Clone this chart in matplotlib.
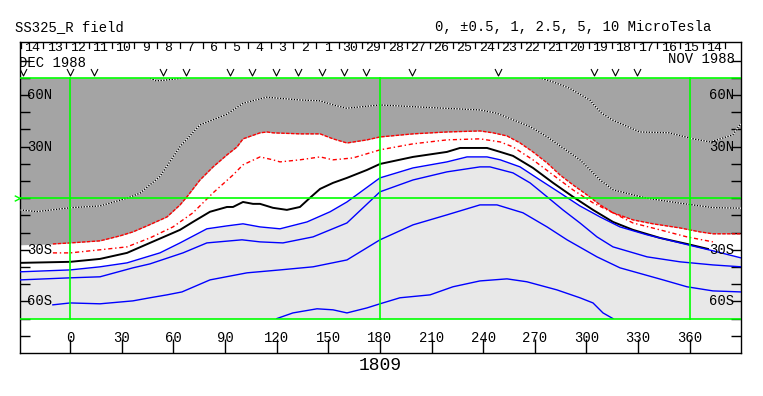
import matplotlib
matplotlib.use('Agg')
import matplotlib.pyplot as plt
from matplotlib.path import Path

# ---------------- data (longitude, latitude in degrees) ----------------
top_dot_a_lon = [42, 47, 50, 54, 60, 65, 67]
top_dot_a_lat = [72, 69.5, 68.2, 68.5, 69.2, 69.8, 72]
top_dot_b_lon = [268, 271, 280, 290, 302, 308, 315, 331, 348, 362, 372, 385, 390]
top_dot_b_lat = [72, 70.5, 67.8, 64, 57, 50, 45.5, 38.5, 38, 34.5, 32.7, 36.8, 43.8]

low_dot_lon = [-29.2, -19.4, 0.4, 17.3, 33, 40.5, 52.1, 63.8, 75.4, 91, 100.5, 114.1, 133.5,
               145.2, 152.9, 160.6, 180, 209.1, 238.1, 247.8, 267.2, 276.9, 296.2, 307.9,
               315.6, 335, 354.4, 373.7, 389.8]
low_dot_lat = [-6.8, -7.8, -5.5, -4.5, 0, 2.9, 12.6, 30, 42.6, 48.8, 55.2, 58.7, 57.1,
               56.6, 54.2, 52.3, 54.2, 52.7, 51.3, 49.4, 41.6, 35.8, 22.3, 10.6,
               4.8, 0, -2.9, -5.5, -5.8]

bound_lon = [-29.2, -10.1, 0, 17.3, 28.9, 36.4, 44.6, 56.2, 63.8, 67.8, 75.4, 83, 91.1, 96.9,
             100.4, 110.3, 114.4, 117.8, 133.5, 145.2, 152.7, 160.8, 172.4, 180, 199.2, 218.9,
             238.1, 245.7, 253.8, 261.4, 268.9, 277.1, 284.6, 292.2, 300.3, 307.9, 315.4, 327,
             338.7, 354.4, 366, 373.5, 389.8]
bound_lat = [-27.1, -26.6, -26, -24.8, -21.9, -19.6, -16.1, -10.9, -3.9, 0.8, 10.6, 18.2, 25.2,
             29.8, 34.5, 38, 38.5, 38, 37.4, 37.4, 34.5, 32.1, 33.9, 35.6, 37.4, 38.5, 39.1, 38,
             36.2, 32.1, 26.9, 20.5, 13.5, 7.7, 1.9, -3.9, -8.5, -12.6, -14.9, -17.3, -19.6,
             -20.7, -20.7]

rdot_lon = [-10.1, 0, 17.3, 33, 46.3, 59.7, 71.3, 83, 94.6, 100.4, 110.3, 117.8, 121.9, 133.5,
            145.2, 152.7, 164.3, 180, 199.2, 218.9, 238.1, 249.9, 257.3, 268.9, 280.6, 292.2,
            303.8, 315.4, 327, 342.7, 358.4, 373.5]
rdot_lat = [-31.8, -31.8, -30, -28.3, -23.1, -16.7, -8.5, 3.1, 13.5, 19.4, 24, 22.3, 21.1, 22.3,
            24, 22.3, 23.4, 28.1, 31.6, 33.9, 34.5, 32.7, 29.8, 22.3, 13.5, 4.8, -2.7, -8.5,
            -14.4, -18.4, -22.5, -25.4]

black_lon = [-29.2, 0, 17.3, 33, 46.3, 59.7, 63.8, 71.3, 81.2, 91.1, 94.6, 100.4, 106.2, 110.3,
             117.8, 125.9, 133.5, 139.3, 145.2, 152.7, 160.8, 172.4, 180, 199.2, 218.9, 226.5,
             242.2, 249.9, 257.3, 268.9, 280.6, 292.2, 303.8, 315.4, 327, 342.7, 358.4, 370.6]
black_lat = [-37.6, -37, -35.3, -31.8, -26, -20.2, -18.4, -13.8, -7.9, -5.1, -5.1, -2.2, -3.3,
             -3.3, -5.6, -6.8, -5.1, 0.2, 5.4, 8.9, 11.8, 16.4, 19.9, 24, 26.9, 29.2, 29.2,
             26.9, 24.6, 17.6, 8.9, 0.8, -6.8, -13.8, -18.4, -23.1, -26.6, -29.5]

blue1_lon = [-29.2, 0, 17.3, 33, 52.1, 63.8, 79.4, 91.1, 100.4, 110.3, 121.9, 137.6, 151, 160.8,
             180, 199.2, 218.9, 230.6, 242.2, 249.9, 261.4, 273, 284.6, 296.2, 307.9, 319.5,
             335.2, 354.4, 373.5, 389.8]
blue1_lat = [-42.8, -41.7, -39.9, -37.6, -31.8, -26, -17.8, -16.1, -14.9, -16.7, -17.8, -13.8,
             -7.9, -2.2, 11.8, 17.6, 21.1, 24, 24, 22.3, 18.2, 10.6, 3.1, -4.5, -10.9, -16.7,
             -21.3, -26, -30.6, -34.7]

blue2_lon = [-29.2, 0, 17.3, 36.4, 46.3, 65.5, 79.4, 99.8, 110.3, 123.6, 141.1, 160.8, 180,
             199.2, 218.9, 238.1, 243.9, 257.3, 267.2, 277.1, 286.3, 296.2, 306.1, 315.4, 335.2,
             354.4, 373.5, 389.8]
blue2_lat = [-47.5, -46.3, -45.7, -40.5, -38.2, -31.8, -26, -24.2, -25.4, -26, -22.5, -14.4, 3.7,
             10.6, 15.3, 18.2, 18.2, 14.7, 8.9, 0.8, -6.8, -14.4, -22.5, -28.3, -34.1, -37,
             -38.8, -39.9]

blue3_lon = [-10.1, 0, 17.3, 36.4, 46.3, 56.2, 64.9, 81.2, 102.7, 121.9, 141.1, 160.8, 180,
             199.2, 218.9, 238.1, 248, 263.1, 277.1, 288.7, 306.1, 319.5, 344.5, 358.4, 373.5,
             389.8]
blue3_lat = [-62, -60.9, -61.4, -59.7, -57.9, -56.2, -54.5, -47.5, -43.4, -41.7, -39.9, -35.9,
             -24.2, -15.5, -9.7, -3.9, -3.9, -8.5, -16.7, -24.2, -34.1, -40.5, -47.5, -51.5,
             -53.9, -54.5]

blue4_lon = [120, 129.4, 143.4, 152.7, 160.8, 172.4, 180, 191.6, 209.1, 222.4, 238.1, 253.8,
             265.4, 282.8, 296.2, 303.8, 309.6, 315.4]
blue4_lat = [-70, -66.7, -64.3, -64.9, -66.7, -63.8, -61.4, -57.9, -56.2, -51.5, -48.1, -46.9,
             -48.6, -53.3, -57.9, -60.9, -66.7, -70]

v_marks_lon = [-27.5, 0, 13.8, 53.9, 67.2, 92.8, 105.6, 119.5, 132.3, 146.3, 159, 171.9,
               198.6, 248.6, 304.4, 316.6, 329.4]

day_labels = ['14', '13', '12', '11', '10', '9', '8', '7', '6', '5', '4', '3', '2', '1',
              '30', '29', '28', '27', '26', '25', '24', '23', '22', '21', '20', '19', '18',
              '17', '16', '15', '14']
day_start_lon = -28.8
day_width = 13.21

lon_ticks = [0, 30, 60, 90, 120, 150, 180, 210, 240, 270, 300, 330, 360]
lat_labels = {60: '60N', 30: '30N', -30: '30S', -60: '60S'}

title_left = 'SS325_R field'
title_right = '0, \u00b10.5, 1, 2.5, 5, 10 MicroTesla'
orbit_label = '1809'

# ---------------- style ----------------
FONT = ['Liberation Mono', 'DejaVu Sans Mono']
DARK = '#a4a4a4'
LIGHT = '#e8e8e8'
GREEN = '#00ff00'
BLUE = '#0000ff'
RED = '#ff0000'
XMIN, XMAX = -29.2, 389.8
plt.rcParams['font.family'] = FONT

fig = plt.figure(figsize=(7.63, 3.96), dpi=100)
ax = fig.add_axes([20 / 763, 43 / 396, 721 / 763, 311 / 396])
ax.set_xlim(XMIN, XMAX)
ax.set_ylim(-90, 90.8)

# map background
ax.fill_between([XMIN, XMAX], [-70, -70], [70, 70], color=LIGHT, lw=0, zorder=1)
ax.fill_between(blue1_lon, blue1_lat, 70, color='white', lw=0, zorder=1.1)
ax.fill_between(bound_lon, bound_lat, 70, color=DARK, lw=0, zorder=1.2)

clip_rect = plt.Rectangle((XMIN, -70), XMAX - XMIN, 140, transform=ax.transData)

def line(lons, lats, **kw):
    ln, = ax.plot(lons, lats, **kw)
    ln.set_clip_path(clip_rect)
    return ln

# dotted black/white lines
for lo, la in [(top_dot_a_lon, top_dot_a_lat), (top_dot_b_lon, top_dot_b_lat),
               (low_dot_lon, low_dot_lat)]:
    line(lo, la, color='white', lw=1.0, zorder=3)
    line(lo, la, color='black', lw=1.0, dashes=(1, 1), zorder=3.1)

line(bound_lon[1:], bound_lat[1:], color=RED, lw=1.0, dashes=(2.5, 1), zorder=3)
line(rdot_lon, rdot_lat, color=RED, lw=1.0, dashes=(3, 2, 1, 2), zorder=3)
line(black_lon, black_lat, color='black', lw=1.4, zorder=3)
for lo, la in [(blue1_lon, blue1_lat), (blue2_lon, blue2_lat), (blue3_lon, blue3_lat),
               (blue4_lon, blue4_lat)]:
    line(lo, la, color=BLUE, lw=1.0, zorder=3)

# green grid lines
GLW = 1.2
ax.plot([XMIN, XMAX], [0, 0], color=GREEN, lw=GLW, zorder=4)
ax.plot([XMIN, XMAX], [70, 70], color=GREEN, lw=GLW, zorder=4)
ax.plot([XMIN, XMAX], [-70, -70], color=GREEN, lw=GLW, zorder=4)
for lo in [0, 180, 360]:
    ax.plot([lo, lo], [-70, 70], color=GREEN, lw=GLW, zorder=4)
chev = Path([(-1, 1), (1, 0), (-1, -1)], [Path.MOVETO, Path.LINETO, Path.LINETO])
ax.plot([XMIN - 1.7], [0], marker=chev, ms=4, mfc='none', mec=GREEN, mew=1,
        clip_on=False, zorder=5)

# V markers
vmark = Path([(-1, 1), (0, -1), (1, 1)], [Path.MOVETO, Path.LINETO, Path.LINETO])
ax.plot(v_marks_lon, [73.1] * len(v_marks_lon), ls='none', marker=vmark, ms=5,
        mfc='none', mec='black', mew=0.8, zorder=5)

# day row
for k in range(len(day_labels) + 1):
    e = day_start_lon + k * day_width
    ax.plot([e, e], [87.3, 90.8], color='black', lw=0.9, zorder=5)
for k, d in enumerate(day_labels):
    ax.text(day_start_lon + (k + 0.5) * day_width, 87.6, d, ha='center', va='center',
            fontsize=9.5, zorder=5)
ax.text(-29.9, 78.6, 'DEC 1988', ha='left', va='center', fontsize=10, zorder=5)
ax.text(386.3, 80.9, 'NOV 1988', ha='right', va='center', fontsize=10, zorder=5)

# ticks
ax.set_xticks(lon_ticks)
ax.set_yticks(list(range(-80, 81, 10)))
ax.tick_params(axis='x', direction='in', length=10, width=1, bottom=True, top=False,
               labelbottom=False)
ax.tick_params(axis='y', direction='in', length=7, width=1, left=True, right=True,
               labelleft=False)
for t in lon_ticks:
    ax.text(t, -81.3, str(t), ha='center', va='center', fontsize=10, zorder=5)
for la, s in lat_labels.items():
    ax.text(-25.3, la, s, ha='left', va='center', fontsize=10, zorder=5)
    ax.text(385.9, la, s, ha='right', va='center', fontsize=10, zorder=5)

for sp in ax.spines.values():
    sp.set_linewidth(1)
    sp.set_color('black')

fig.text(15 / 763, 1 - 27.5 / 396, title_left, ha='left', va='center', fontsize=10)
fig.text(711 / 763, 1 - 27.5 / 396, title_right, ha='right', va='center', fontsize=10)
fig.text(380 / 763, 1 - 366 / 396, orbit_label, ha='center', va='center', fontsize=13)

fig.savefig('out.png', dpi=100)
